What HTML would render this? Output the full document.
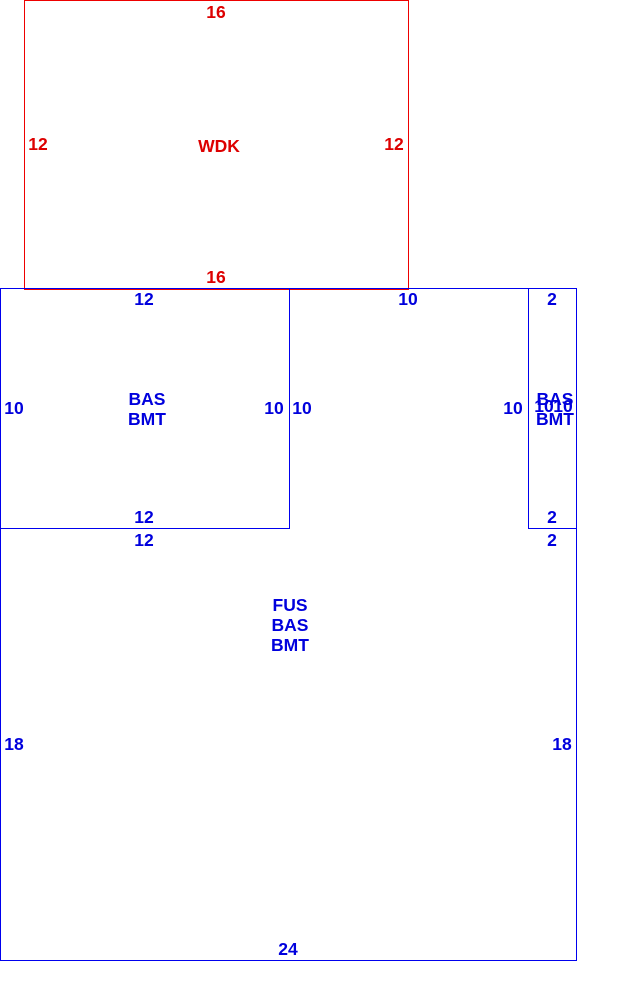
<!DOCTYPE html>
<html><head><style>
body{margin:0;width:634px;height:990px;background:#fff;position:relative;overflow:hidden;font-family:"Liberation Sans",Arial,sans-serif;font-weight:bold;font-size:17.5px}
.b{position:absolute;border:1.5px solid #0000ee;box-sizing:border-box}
.r{position:absolute;border:1.5px solid #ee0000;box-sizing:border-box}
.t{position:absolute;transform:translate(-50%,-50%);white-space:nowrap;line-height:20px;text-align:center;color:#0000dd}
.rt{color:#dd0000}
</style></head><body>
<div class="r" style="left:24px;top:0;width:385px;height:290px"></div>
<div class="b" style="left:0;top:288px;width:577px;height:673px"></div>
<div class="b" style="left:0;top:288px;width:290px;height:241px"></div>
<div class="b" style="left:528px;top:288px;width:49px;height:241px"></div>

<div class="t rt" style="left:216px;top:12px">16</div>
<div class="t rt" style="left:38px;top:144px">12</div>
<div class="t rt" style="left:394px;top:144px">12</div>
<div class="t rt" style="left:219px;top:146px">WDK</div>
<div class="t rt" style="left:216px;top:277px">16</div>

<div class="t" style="left:144px;top:299px">12</div>
<div class="t" style="left:408px;top:299px">10</div>
<div class="t" style="left:552px;top:299px">2</div>
<div class="t" style="left:14px;top:408px">10</div>
<div class="t" style="left:147px;top:409px">BAS<br>BMT</div>
<div class="t" style="left:274px;top:408px">10</div>
<div class="t" style="left:302px;top:408px">10</div>
<div class="t" style="left:513px;top:408px">10</div>
<div class="t" style="left:544px;top:406px">10</div>
<div class="t" style="left:563px;top:406px">10</div>
<div class="t" style="left:555px;top:409px">BAS<br>BMT</div>
<div class="t" style="left:144px;top:517px">12</div>
<div class="t" style="left:552px;top:517px">2</div>
<div class="t" style="left:144px;top:540px">12</div>
<div class="t" style="left:552px;top:540px">2</div>
<div class="t" style="left:290px;top:625px">FUS<br>BAS<br>BMT</div>
<div class="t" style="left:14px;top:744px">18</div>
<div class="t" style="left:562px;top:744px">18</div>
<div class="t" style="left:288px;top:949px">24</div>
</body></html>
